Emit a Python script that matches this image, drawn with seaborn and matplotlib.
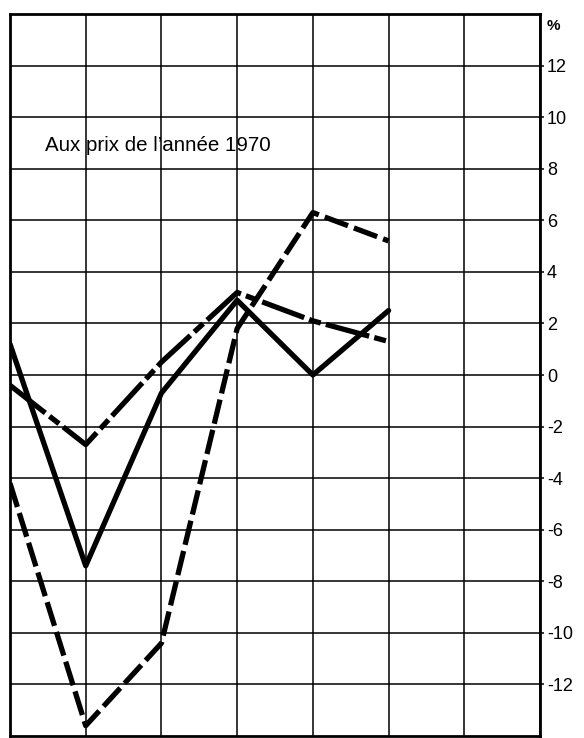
import numpy as np
import pandas as pd
import matplotlib
matplotlib.use("Agg")
import matplotlib.pyplot as plt
import seaborn as sns

# Data
periods = [0, 1, 2, 3, 4, 5]
solid_vals = [1.2, -7.4, -0.7, 2.9, 0.0, 2.5]
dash_vals = [-4.2, -13.6, -10.4, 1.8, 6.3, 5.2]
dashdot_vals = [-0.4, -2.7, 0.5, 3.2, 2.1, 1.3]
series_names = ["A", "B", "C"]
y_ticks = [12, 10, 8, 6, 4, 2, 0, -2, -4, -6, -8, -10, -12]
y_ticklabels = ["12", "10", "8", "6", "4", "2", "0", "-2", "-4", "-6", "-8", "-10", "-12"]
note = "Aux prix de l\u2019ann\u00e9e 1970"
unit = "%"

df = pd.DataFrame({
    "x": periods * 3,
    "y": solid_vals + dash_vals + dashdot_vals,
    "s": [series_names[0]] * 6 + [series_names[1]] * 6 + [series_names[2]] * 6,
})

sns.set_style("white")
plt.rcParams["font.family"] = ["Liberation Sans", "DejaVu Sans"]

fig = plt.figure(figsize=(5.84, 7.38), dpi=100)
ax = fig.add_axes([10 / 584, 2 / 738, 530 / 584, 722 / 738])

sns.lineplot(
    data=df, x="x", y="y", style="s", ax=ax,
    color="black", linewidth=3.8,
    dashes={"A": "", "B": (4.7, 1.2), "C": (8.5, 1.0, 2.3, 1.0)},
    legend=False, zorder=3,
)

ax.set_xlim(0, 7)
ax.set_ylim(-14, 14)
ax.set_xticks(range(0, 8))
ax.set_yticks(y_ticks)
ax.set_yticklabels(y_ticklabels)
ax.xaxis.set_ticklabels([])
ax.grid(True, color="black", linewidth=1.1)
ax.set_axisbelow(True)
ax.yaxis.tick_right()
ax.tick_params(axis="y", right=True, left=False, length=3, width=1.1,
               pad=2, labelsize=13, colors="black")
ax.tick_params(axis="x", bottom=False, top=False, length=0)
for s in ax.spines.values():
    s.set_visible(True)
    s.set_color("black")
    s.set_linewidth(2.0)
ax.set_xlabel("")
ax.set_ylabel("")

ax.text(0.46, 8.9, note, fontsize=14.8, ha="left", va="center", color="black")
ax.text(1.012, 13.55, unit, transform=ax.get_yaxis_transform(), fontsize=11,
        ha="left", va="center", fontweight="bold", color="black")

fig.savefig("out.png", dpi=100)
